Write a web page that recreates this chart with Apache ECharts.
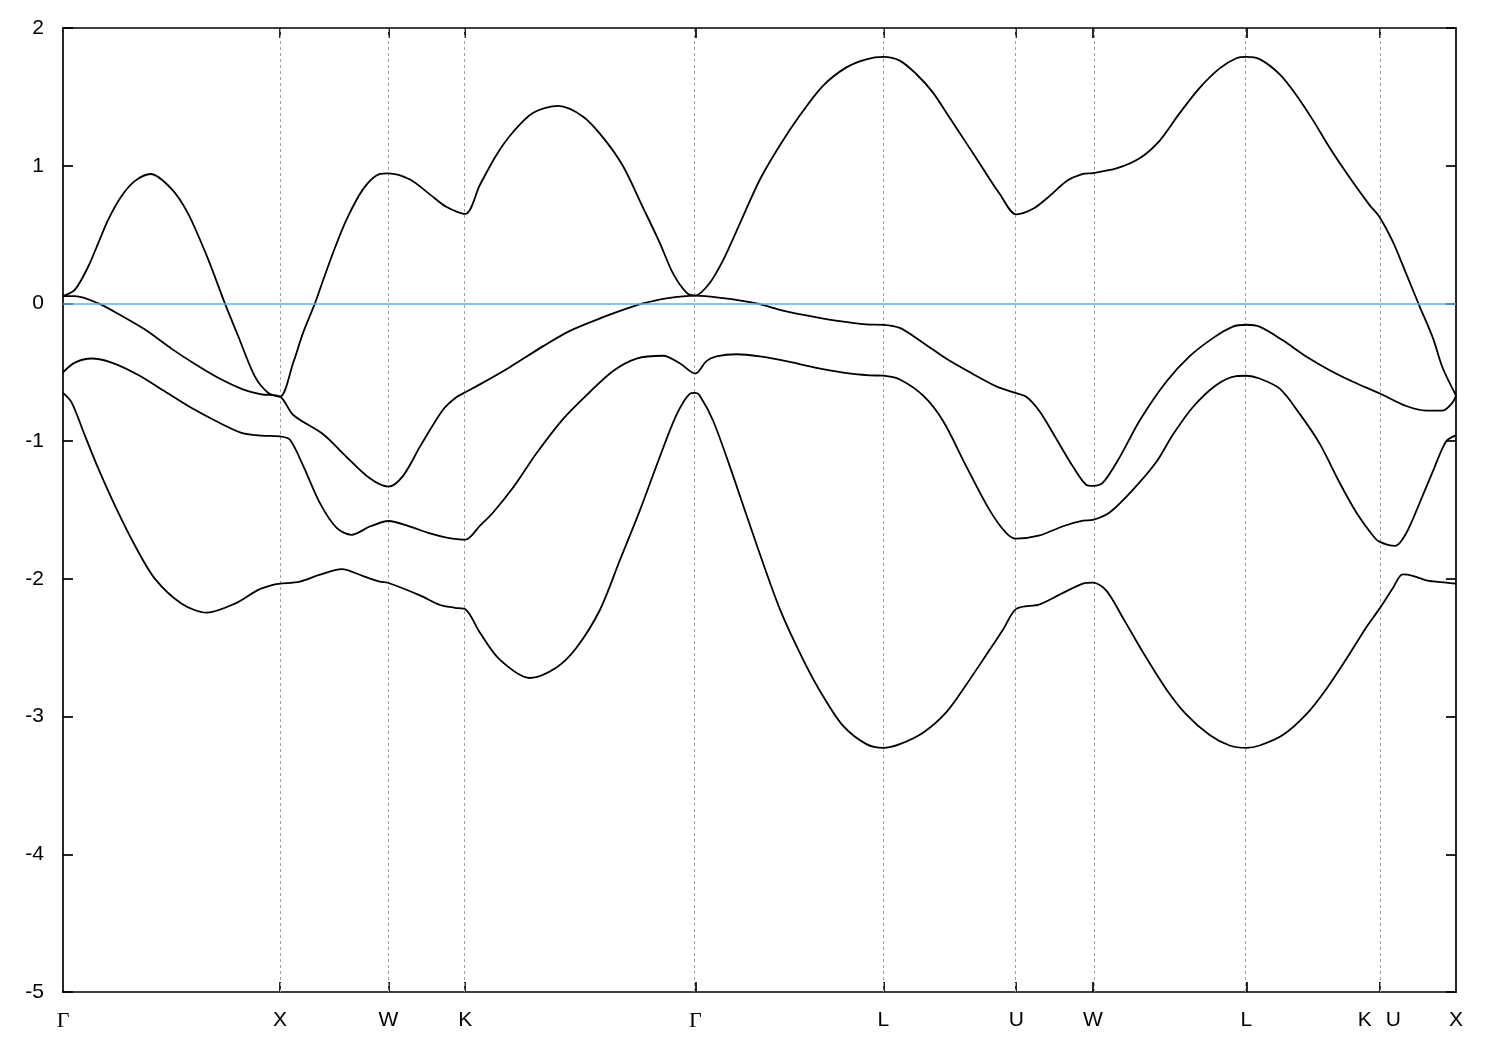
<!DOCTYPE html>
<html>
<head>
<meta charset="utf-8">
<script src="https://cdn.jsdelivr.net/npm/echarts@6/dist/echarts.min.js"></script>
<style>
html,body{margin:0;padding:0;background:#fff;}
#c{width:1500px;height:1050px;}
</style>
</head>
<body>
<div id="c"></div>
<script>
// high-symmetry points along the k-path
const kTicks = [0, 1, 1.5, 1.85355, 2.91421, 3.78024, 4.39261, 4.74616, 5.45327, 6.06564, 6.41919];
const kLabels = ['Γ', 'X', 'W', 'K', 'Γ', 'L', 'U', 'W', 'L', 'K|U', 'X'];
const energyMin = -5;
const energyMax = 2;
const energyStep = 1;
const fermiLevel = 0;

// bands as [k, E] pairs
const band1 = [
[0,-0.65],[0.040,-0.72],[0.101,-0.96],[0.163,-1.20],[0.240,-1.47],[0.332,-1.76],[0.424,-2.00],[0.547,-2.18],[0.662,-2.245],[0.792,-2.18],[0.900,-2.08],[0.977,-2.04],[1.0,-2.035],
[1.092,-2.02],[1.184,-1.97],[1.284,-1.93],[1.383,-1.98],[1.460,-2.02],[1.5,-2.03],[1.645,-2.12],[1.737,-2.19],[1.806,-2.21],[1.854,-2.22],
[1.921,-2.39],[2.013,-2.587],[2.151,-2.72],[2.274,-2.643],[2.366,-2.50],[2.474,-2.226],[2.566,-1.865],[2.658,-1.505],[2.750,-1.115],[2.827,-0.81],[2.888,-0.657],[2.914,-0.65],
[2.934,-0.668],[2.996,-0.852],[3.088,-1.252],[3.196,-1.751],[3.303,-2.218],[3.410,-2.584],[3.502,-2.851],[3.595,-3.068],[3.702,-3.20],[3.780,-3.227],
[3.856,-3.20],[3.963,-3.117],[4.071,-2.967],[4.163,-2.767],[4.255,-2.551],[4.332,-2.368],[4.393,-2.218],
[4.501,-2.185],[4.608,-2.102],[4.700,-2.035],[4.746,-2.028],
[4.808,-2.085],[4.885,-2.285],[4.977,-2.534],[5.084,-2.801],[5.176,-2.984],[5.284,-3.134],[5.376,-3.21],[5.453,-3.227],
[5.514,-3.21],[5.621,-3.134],[5.729,-2.984],[5.821,-2.801],[5.913,-2.584],[6.006,-2.351],[6.066,-2.218],
[6.128,-2.068],[6.174,-1.968],[6.220,-1.978],[6.282,-2.011],[6.374,-2.028],[6.419,-2.035]
];
const band2 = [
[0,-0.50],[0.055,-0.43],[0.132,-0.40],[0.224,-0.43],[0.347,-0.52],[0.470,-0.64],[0.593,-0.76],[0.700,-0.85],[0.823,-0.94],[0.915,-0.96],[1.0,-0.965],
[1.046,-0.99],[1.107,-1.18],[1.184,-1.45],[1.261,-1.63],[1.330,-1.68],[1.414,-1.62],[1.5,-1.58],[1.599,-1.62],[1.691,-1.67],[1.768,-1.70],[1.854,-1.715],
[1.921,-1.615],[1.982,-1.518],[2.074,-1.337],[2.182,-1.088],[2.305,-0.838],[2.428,-0.643],[2.535,-0.49],[2.643,-0.40],[2.765,-0.38],[2.842,-0.435],[2.914,-0.51],
[2.965,-0.419],[3.011,-0.385],[3.104,-0.369],[3.211,-0.385],[3.349,-0.425],[3.472,-0.468],[3.595,-0.502],[3.717,-0.522],[3.780,-0.525],
[3.856,-0.552],[3.963,-0.668],[4.055,-0.852],[4.163,-1.185],[4.270,-1.501],[4.347,-1.668],[4.393,-1.708],
[4.501,-1.685],[4.608,-1.618],[4.700,-1.578],[4.746,-1.572],
[4.823,-1.518],[4.931,-1.352],[5.038,-1.152],[5.115,-0.952],[5.207,-0.752],[5.315,-0.592],[5.407,-0.528],[5.453,-0.525],
[5.514,-0.545],[5.607,-0.619],[5.699,-0.802],[5.791,-1.018],[5.883,-1.302],[5.960,-1.518],[6.036,-1.685],[6.066,-1.73],
[6.139,-1.761],[6.190,-1.668],[6.251,-1.451],[6.313,-1.218],[6.374,-1.001],[6.419,-0.958]
];
const band3 = [
[0,0.053],[0.055,0.053],[0.163,0.0],[0.270,-0.09],[0.378,-0.19],[0.501,-0.33],[0.608,-0.44],[0.715,-0.54],[0.823,-0.62],[0.915,-0.66],[1.0,-0.677],
[1.061,-0.81],[1.199,-0.95],[1.291,-1.09],[1.414,-1.27],[1.5,-1.33],[1.568,-1.25],[1.645,-1.04],[1.752,-0.77],[1.814,-0.68],[1.854,-0.645],
[1.921,-0.588],[2.059,-0.463],[2.213,-0.31],[2.336,-0.199],[2.489,-0.10],[2.597,-0.038],[2.673,0.0],[2.781,0.037],[2.914,0.057],
[3.042,0.038],[3.196,0.0],[3.318,-0.052],[3.456,-0.096],[3.579,-0.129],[3.702,-0.152],[3.780,-0.155],
[3.856,-0.178],[3.963,-0.285],[4.071,-0.402],[4.193,-0.512],[4.301,-0.602],[4.393,-0.652],
[4.439,-0.678],[4.501,-0.785],[4.578,-0.985],[4.654,-1.185],[4.716,-1.318],[4.746,-1.325],
[4.792,-1.302],[4.869,-1.118],[4.961,-0.852],[5.084,-0.569],[5.191,-0.385],[5.299,-0.252],[5.391,-0.169],[5.453,-0.155],
[5.514,-0.169],[5.621,-0.268],[5.729,-0.385],[5.837,-0.485],[5.944,-0.569],[6.066,-0.652],
[6.190,-0.745],[6.282,-0.778],[6.358,-0.778],[6.404,-0.718],[6.419,-0.668]
];
const band4 = [
[0,0.053],[0.055,0.10],[0.117,0.27],[0.163,0.44],[0.209,0.61],[0.270,0.78],[0.332,0.89],[0.404,0.94],[0.501,0.83],[0.577,0.65],[0.669,0.32],[0.746,0.0],[0.808,-0.24],[0.884,-0.53],[0.946,-0.65],[1.0,-0.677],
[1.061,-0.43],[1.107,-0.21],[1.161,0.0],[1.199,0.17],[1.245,0.37],[1.307,0.61],[1.383,0.83],[1.460,0.94],[1.5,0.945],[1.599,0.90],[1.692,0.79],[1.768,0.70],[1.854,0.65],
[1.921,0.86],[1.998,1.08],[2.074,1.245],[2.167,1.384],[2.282,1.434],[2.397,1.356],[2.489,1.204],[2.581,0.996],[2.666,0.718],[2.750,0.44],[2.811,0.218],[2.873,0.079],[2.914,0.057],
[2.980,0.148],[3.042,0.314],[3.119,0.58],[3.211,0.898],[3.303,1.147],[3.395,1.364],[3.502,1.58],[3.610,1.714],[3.702,1.773],[3.780,1.79],
[3.856,1.763],[3.933,1.664],[4.009,1.531],[4.086,1.348],[4.163,1.164],[4.239,0.98],[4.316,0.797],[4.393,0.647],
[4.470,0.687],[4.547,0.781],[4.624,0.888],[4.700,0.94],[4.746,0.947],
[4.854,0.98],[4.961,1.054],[5.053,1.181],[5.145,1.38],[5.237,1.564],[5.330,1.707],[5.407,1.78],[5.453,1.79],
[5.514,1.774],[5.607,1.664],[5.683,1.514],[5.760,1.331],[5.837,1.131],[5.929,0.914],[6.021,0.714],[6.066,0.63],
[6.128,0.448],[6.190,0.214],[6.251,-0.019],[6.313,-0.252],[6.358,-0.469],[6.419,-0.668]
];

const sans = '"Liberation Sans", Arial, sans-serif';
const serif = '"Liberation Serif", "Times New Roman", serif';
const innerTicks = kTicks.slice(1, -1);

function kLabel(v) {
  let i = 0, best = Infinity;
  kTicks.forEach((t, j) => { const d = Math.abs(t - v); if (d < best) { best = d; i = j; } });
  const s = kLabels[i];
  if (s === 'Γ') return '{g|Γ}';
  if (s.indexOf('|') >= 0) {
    const p = s.split('|');
    return '{s|' + p[0] + '}{gap|}{s|' + p[1] + '}';
  }
  return '{s|' + s + '}';
}

const axisLineStyle = { color: '#000', width: 1.7 };
const tickCommon = { show: true, inside: true, length: 10, lineStyle: { color: '#000', width: 1.7 } };

function bandSeries(data, extra) {
  return Object.assign({
    type: 'line',
    data: data,
    xAxisIndex: 0,
    yAxisIndex: 0,
    showSymbol: false,
    symbol: 'none',
    smooth: 0.3,
    silent: true,
    lineStyle: { color: '#000', width: 1.8 },
    z: 3
  }, extra || {});
}

const chart = echarts.init(document.getElementById('c'), null, { renderer: 'canvas' });
chart.setOption({
  animation: false,
  backgroundColor: '#fff',
  grid: { left: 63, right: 44, top: 28, bottom: 58 },
  xAxis: [
    {
      type: 'value', position: 'bottom',
      min: kTicks[0], max: kTicks[kTicks.length - 1],
      axisLine: { show: true, onZero: false, lineStyle: axisLineStyle },
      axisTick: Object.assign({ customValues: innerTicks }, tickCommon),
      axisLabel: {
        customValues: kTicks,
        formatter: kLabel,
        margin: 18,
        rich: {
          s: { fontFamily: sans, fontSize: 21, color: '#000' },
          g: { fontFamily: serif, fontSize: 22, color: '#000' },
          gap: { width: 14 }
        }
      },
      splitLine: { show: false }
    },
    {
      type: 'value', position: 'top',
      min: kTicks[0], max: kTicks[kTicks.length - 1],
      axisLine: { show: true, onZero: false, lineStyle: axisLineStyle },
      axisTick: Object.assign({ customValues: innerTicks }, tickCommon),
      axisLabel: { show: false },
      splitLine: { show: false }
    }
  ],
  yAxis: [
    {
      type: 'value', position: 'left',
      min: energyMin, max: energyMax, interval: energyStep,
      axisLine: { show: true, onZero: false, lineStyle: axisLineStyle },
      axisTick: tickCommon,
      axisLabel: { color: '#000', fontFamily: sans, fontSize: 21, margin: 19 },
      splitLine: { show: false }
    },
    {
      type: 'value', position: 'right',
      min: energyMin, max: energyMax, interval: energyStep,
      axisLine: { show: true, onZero: false, lineStyle: axisLineStyle },
      axisTick: tickCommon,
      axisLabel: { show: false },
      splitLine: { show: false }
    }
  ],
  series: [
    bandSeries(band1, {
      markLine: {
        silent: true, symbol: 'none', label: { show: false },
        lineStyle: { color: '#a0a0a0', type: [3, 3], width: 1 },
        data: innerTicks.map(v => ({ xAxis: v })),
        z: 1
      }
    }),
    bandSeries(band2),
    bandSeries(band3),
    bandSeries(band4, {
      markLine: {
        silent: true, symbol: 'none', label: { show: false },
        lineStyle: { color: '#56b4e9', type: 'solid', width: 1.6 },
        data: [{ yAxis: fermiLevel }]
      }
    })
  ]
});
</script>
</body>
</html>
